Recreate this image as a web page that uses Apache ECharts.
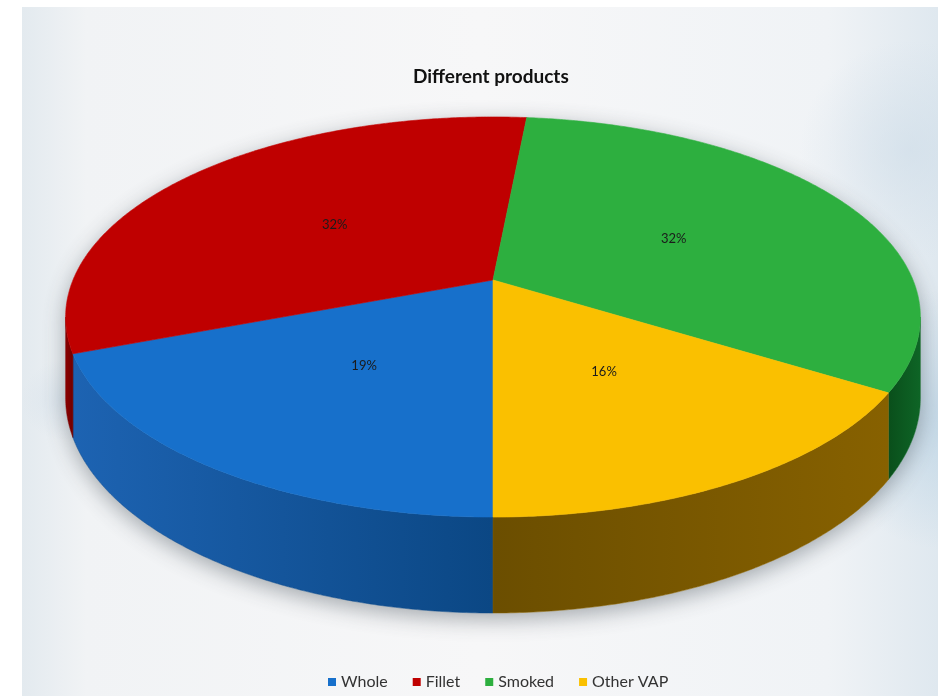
<!DOCTYPE html>
<html>
<head>
<meta charset="utf-8">
<script src="https://cdn.jsdelivr.net/npm/echarts@6/dist/echarts.min.js"></script>
<style>
  html, body { margin: 0; padding: 0; background: #ffffff; }
  #chart { width: 938px; height: 696px; }
</style>
</head>
<body>
<div id="chart"></div>
<script>
// Product mix shares (percent)
const categories = ['Whole', 'Fillet', 'Smoked', 'Other VAP'];
const shares = [19, 32, 32, 16];

// Slice colours: top face and side wall gradient (light end, dark end)
const topColors = ['#1770CB', '#BF0000', '#2DAF3F', '#FAC000'];
const sideColors = [
  ['#1D63B2', '#0B4784'],
  ['#8C0000', '#700000'],
  ['#0E6526', '#0A4F1B'],
  ['#876100', '#6B4E00']
];

// Perspective projection of a flat disc seen from above and in front
const CX = 493, CY = 280;       // projected centre of the disc
const RX = 420, RY = 193.2;     // horizontal / depth scale
const K = 0.185;                // perspective strength
const DEPTH = 78.2;             // thickness of the disc
const START_ANGLE = 180;        // first slice starts at 6 o'clock, clockwise
const LABEL_R = 0.5;

function project(deg, r, h) {
  const t = deg * Math.PI / 180;
  const u = r * Math.sin(t);
  const v = -r * Math.cos(t);
  const w = 1 - K * v;
  return [CX + RX * u / w, CY + (RY * v + h) / w];
}

function arc(a0, a1, h) {
  const pts = [];
  const n = Math.max(2, Math.ceil(Math.abs(a1 - a0) / 0.5));
  for (let j = 0; j <= n; j++) pts.push(project(a0 + (a1 - a0) * j / n, 1, h));
  return pts;
}

const total = shares.reduce((s, v) => s + v, 0);
const sliceStart = [];
const sliceEnd = [];
shares.reduce((acc, v, i) => {
  sliceStart[i] = acc;
  sliceEnd[i] = acc + v / total * 360;
  return sliceEnd[i];
}, START_ANGLE);

// the front wall is visible between the two silhouette angles
const SIL_R = Math.acos(-K) * 180 / Math.PI;   // right side
const SIL_L = 360 - SIL_R;                      // left side

function visiblePart(a0, a1) {
  for (const off of [0, -360, 360]) {
    const s = Math.max(a0 + off, SIL_R);
    const e = Math.min(a1 + off, SIL_L);
    if (e > s) return [s, e];
  }
  return null;
}

function renderSlice(i) {
  const a0 = sliceStart[i], a1 = sliceEnd[i];
  const children = [];

  if (i === 0) {
    // soft shadow cast by the disc
    children.push({
      type: 'polygon',
      z2: -10,
      shape: { points: arc(SIL_R, SIL_L, DEPTH).concat(arc(SIL_L, SIL_R + 360, 0)) },
      style: {
        fill: '#f3f4f6',
        shadowBlur: 22,
        shadowColor: 'rgba(60,70,80,0.45)',
        shadowOffsetY: 6
      }
    });
  }

  const vis = visiblePart(a0, a1);
  if (vis) {
    const topEdge = arc(vis[0], vis[1], 0);
    const bottomEdge = arc(vis[1], vis[0], DEPTH);
    const xs = topEdge.map(p => p[0]);
    const xMin = Math.min(...xs), xMax = Math.max(...xs);
    const leftHalf = (vis[0] + vis[1]) / 2 > 180;
    const light = sideColors[i][0], dark = sideColors[i][1];
    children.push({
      type: 'polygon',
      z2: 1,
      shape: { points: topEdge.concat(bottomEdge) },
      style: {
        fill: new echarts.graphic.LinearGradient(xMin, 0, xMax, 0, [
          { offset: 0, color: leftHalf ? light : dark },
          { offset: 1, color: leftHalf ? dark : light }
        ], true),
        stroke: leftHalf ? dark : light,
        lineWidth: 0.5
      }
    });
  }

  children.push({
    type: 'polygon',
    z2: 5,
    shape: { points: [project(0, 0, 0)].concat(arc(a0, a1, 0)) },
    style: { fill: topColors[i], stroke: topColors[i], lineWidth: 0.6 }
  });

  const mid = (a0 + a1) / 2;
  const lp = project(mid, LABEL_R, 0);
  children.push({
    type: 'text',
    z2: 10,
    x: lp[0],
    y: lp[1],
    style: {
      text: shares[i] + '%',
      fill: '#1b1b1b',
      font: '13px Lato',
      align: 'center',
      verticalAlign: 'middle'
    }
  });

  return { type: 'group', children };
}

const chart = echarts.init(document.getElementById('chart'), null, { renderer: 'canvas' });

const series = categories.map((name, i) => ({
  type: 'custom',
  name,
  coordinateSystem: 'none',
  silent: true,
  itemStyle: { color: topColors[i] },
  data: [[i]],
  renderItem: () => renderSlice(i)
}));

chart.setOption({
  animation: false,
  backgroundColor: '#ffffff',
  graphic: [
    {
      type: 'rect', z: -10, silent: true,
      shape: { x: 22, y: 7, width: 916, height: 689 },
      style: {
        fill: new echarts.graphic.LinearGradient(0, 0, 1, 0, [
          { offset: 0, color: '#e3eaef' },
          { offset: 0.07, color: '#f1f3f5' },
          { offset: 0.5, color: '#f7f7f8' },
          { offset: 0.88, color: '#f0f3f6' },
          { offset: 1, color: '#dfe8ef' }
        ])
      }
    },
    {
      type: 'ellipse', z: -9, silent: true,
      shape: { cx: 950, cy: 420, rx: 170, ry: 130 },
      style: {
        fill: new echarts.graphic.RadialGradient(0.5, 0.5, 0.5, [
          { offset: 0, color: 'rgba(190,213,229,0.85)' },
          { offset: 1, color: 'rgba(190,213,229,0)' }
        ])
      }
    },
    {
      type: 'ellipse', z: -9, silent: true,
      shape: { cx: 910, cy: 150, rx: 140, ry: 110 },
      style: {
        fill: new echarts.graphic.RadialGradient(0.5, 0.5, 0.5, [
          { offset: 0, color: 'rgba(205,220,232,0.6)' },
          { offset: 1, color: 'rgba(205,220,232,0)' }
        ])
      }
    },
    {
      type: 'ellipse', z: -9, silent: true,
      shape: { cx: 62, cy: 400, rx: 40, ry: 280 },
      style: {
        fill: new echarts.graphic.RadialGradient(0.5, 0.5, 0.5, [
          { offset: 0, color: 'rgba(212,224,234,0.6)' },
          { offset: 1, color: 'rgba(212,224,234,0)' }
        ])
      }
    }
  ],
  title: {
    text: 'Different products',
    left: 408,
    top: 62,
    textStyle: { fontFamily: 'Lato', fontSize: 19, fontWeight: 'bold', color: '#111111' }
  },
  legend: {
    data: categories,
    left: 323,
    top: 669,
    icon: 'rect',
    itemWidth: 8,
    itemHeight: 8,
    itemGap: 25,
    selectedMode: false,
    textStyle: { fontFamily: 'Lato', fontSize: 16, color: '#333333' }
  },
  series
});
</script>
</body>
</html>
